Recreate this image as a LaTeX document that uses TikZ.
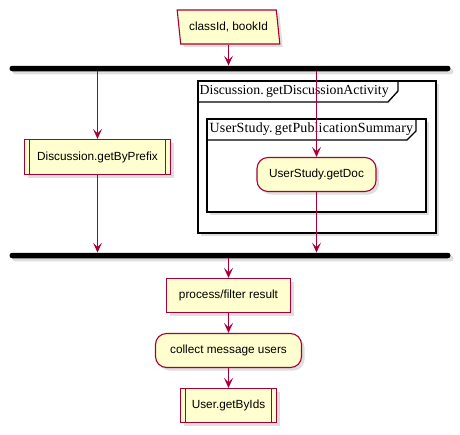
\documentclass[tikz,border=0pt]{standalone}
\usepackage{fontspec}
\setmainfont{Liberation Serif}
\setsansfont{Liberation Sans}
\usetikzlibrary{shapes.geometric,shadows,arrows.meta}

\definecolor{pumlred}{HTML}{A80036}
\definecolor{pumlfill}{HTML}{FEFECE}

\tikzset{
  softshadow/.style={drop shadow={shadow xshift=3pt,shadow yshift=-3pt,opacity=0.25}},
  act/.style={draw=pumlred,fill=pumlfill,line width=1.1pt,inner sep=0pt,
    font=\sffamily\fontsize{11.8}{14}\selectfont,softshadow},
  actbox/.style={act,rectangle,minimum height=34pt},
  actround/.style={act,rectangle,rounded corners=11pt,minimum height=34pt},
  actsub/.style={actbox,path picture={
    \draw[pumlred,line width=1.1pt]
      ([xshift=5pt]path picture bounding box.north west) -- ([xshift=5pt]path picture bounding box.south west)
      ([xshift=-5pt]path picture bounding box.north east) -- ([xshift=-5pt]path picture bounding box.south east);}},
  actin/.style={act,trapezium,trapezium left angle=106,trapezium right angle=74,
    trapezium stretches=true,minimum width=103pt,minimum height=34pt},
  forkbar/.style={fill=black,rectangle,rounded corners=2.7pt,inner sep=0pt,
    minimum width=441pt,minimum height=5.5pt,softshadow},
  flow/.style={draw=pumlred,line width=1.1pt,>={Stealth[length=10pt,width=9pt,inset=4.5pt]},->},
  framebox/.style={draw=black,fill=white,line width=1.3pt,softshadow},
  frametab/.style={draw=black,line width=1.3pt},
  framelabel/.style={font=\fontsize{13.8}{16}\selectfont,inner sep=0pt,anchor=west}
}

\begin{document}
\begin{tikzpicture}[x=1pt,y=-1pt]
  \useasboundingbox (0,0) rectangle (460,434);

  % frames
  \draw[framebox] (198,81) rectangle (436,233);
  \draw[frametab] (198,102) -- (388,102) -- (398,91) -- (398,81);
  \node[framelabel] (actlabel) at (199.5,91.5) {Discussion.\,getDiscussionActivity};
  \draw[framebox] (207,119) rectangle (426,212);
  \draw[frametab] (207,140) -- (407,140) -- (416,131) -- (416,119);
  \node[framelabel,font=\fontsize{14}{16}\selectfont\addfontfeature{LetterSpace=1}] (sumlabel)
    at (209.5,129.5) {UserStudy.\,getPublicationSummary};

  % activities
  \node[actin] (in) at (228.5,27) {classId, bookId};
  \node[forkbar] (forkA) at (230,68.5) {};
  \node[actsub,minimum width=146pt,minimum height=35pt] (prefix) at (97.5,157) {Discussion.getByPrefix};
  \node[actround,minimum width=119pt] (doc) at (316.5,174.5) {UserStudy.getDoc};
  \node[forkbar] (forkB) at (230,255.5) {};
  \node[actbox,minimum width=124pt] (proc) at (228.5,295.5) {process/filter result};
  \node[actround,minimum width=146pt] (collect) at (228.5,350.5) {collect message users};
  \node[actsub,minimum width=96pt] (ids) at (228.5,405.5) {User.getByIds};

  % arrows
  \draw[flow] (in.center |- in.south) -- (in.center |- forkA.north);
  \draw[flow] (prefix |- forkA.south) -- (prefix.north);
  \draw[flow] (doc |- forkA.south) -- (doc.north);
  \draw[flow] (prefix.south) -- (prefix |- forkB.north);
  \draw[flow] (doc.south) -- (doc |- forkB.north);
  \draw[flow] (proc |- forkB.south) -- (proc.north);
  \draw[flow] (proc.south) -- (collect.north);
  \draw[flow] (collect.south) -- (ids.north);
\end{tikzpicture}
\end{document}
